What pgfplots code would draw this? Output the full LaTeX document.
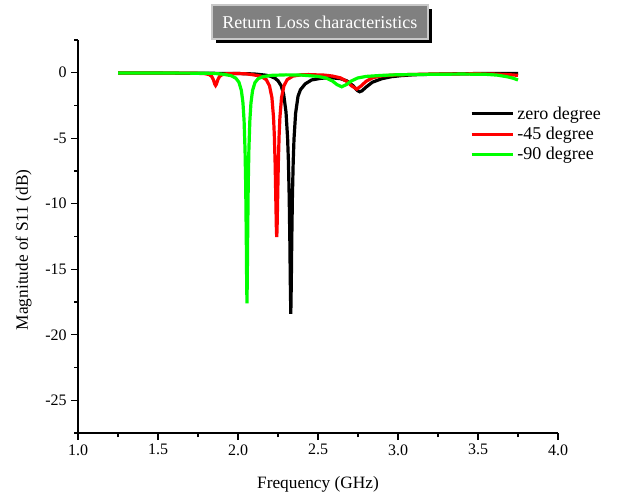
\documentclass[border=0pt]{standalone}
\usepackage{pgfplots}
\pgfplotsset{compat=1.18}
\usepackage{fontspec}
\setmainfont{Liberation Serif}

\definecolor{rlred}{RGB}{255,0,0}
\definecolor{rlgreen}{RGB}{0,255,0}
\definecolor{boxgray}{RGB}{128,128,128}
\definecolor{boxedge}{RGB}{200,200,200}

\begin{document}
\begin{tikzpicture}
\begin{axis}[
  scale only axis,
  width=360pt, height=294.75pt,
  xmin=1, xmax=4, ymin=-27.5, ymax=2.5,
  axis x line*=bottom, axis y line*=left,
  axis line style={line width=1.1pt},
  tick align=outside,
  xtick={1,1.5,2,2.5,3,3.5,4},
  xticklabels={1.0,1.5,2.0,2.5,3.0,3.5,4.0},
  minor xtick={1.25,1.75,2.25,2.75,3.25,3.75},
  ytick={-25,-20,-15,-10,-5,0},
  yticklabels={-25,-20,-15,-10,-5,0},
  minor ytick={-27.5,-22.5,-17.5,-12.5,-7.5,-2.5,2.5},
  major tick length=5pt, minor tick length=3pt,
  every tick/.style={line width=0.9pt, black},
  tick label style={font=\fontsize{12}{14}\selectfont},
  xlabel={Frequency (GHz)}, ylabel={Magnitude of S11 (dB)},
  label style={font=\fontsize{13}{15}\selectfont},
  xlabel style={at={(axis description cs:0.5,-0.13)}, anchor=center},
  ylabel style={at={(axis description cs:-0.113,0.466)}, anchor=center},
  legend style={draw=none, fill=none, at={(rel axis cs:0.808,0.845)}, anchor=north west,
    font=\fontsize{13.5}{16}\selectfont, row sep=0.5pt},
  legend cell align=left,
  legend image code/.code={\draw[#1] (0pt,0pt) -- (31pt,0pt);},
  clip=false,
]
% zero degree
\addplot[black, line width=2.4pt] coordinates {
(1.25,-0.02) (1.40,-0.02) (1.60,-0.03) (1.80,-0.04) (1.90,-0.05) (2.00,-0.06)
(2.10,-0.09) (2.17,-0.18) (2.20,-0.25) (2.23,-0.41) (2.25,-0.61) (2.27,-1.0)
(2.285,-1.62) (2.30,-3.0) (2.31,-5.0) (2.315,-6.75) (2.32,-9.5) (2.324,-12.8)
(2.327,-16.1) (2.33,-18.4) (2.333,-16.1) (2.336,-12.8) (2.34,-9.5) (2.345,-6.8)
(2.35,-5.05) (2.36,-3.1) (2.375,-1.8) (2.39,-1.3) (2.42,-0.85) (2.46,-0.55)
(2.52,-0.42) (2.58,-0.38) (2.64,-0.45) (2.68,-0.62) (2.72,-1.0) (2.745,-1.35)
(2.76,-1.45) (2.775,-1.38) (2.80,-1.1) (2.84,-0.72) (2.90,-0.45) (2.96,-0.3)
(3.02,-0.22) (3.10,-0.15) (3.30,-0.09) (3.50,-0.06) (3.75,-0.05)
};
% -45 degree
\addplot[rlred, line width=2.4pt] coordinates {
(1.25,-0.02) (1.50,-0.02) (1.70,-0.03) (1.79,-0.06) (1.82,-0.14) (1.835,-0.27)
(1.845,-0.5) (1.85,-0.68) (1.855,-0.87) (1.86,-0.97) (1.865,-0.87) (1.87,-0.68)
(1.875,-0.5) (1.885,-0.28) (1.90,-0.15) (1.93,-0.07) (2.00,-0.06) (2.05,-0.08)
(2.092,-0.15) (2.142,-0.26) (2.177,-0.53) (2.197,-1.0) (2.212,-1.9) (2.222,-3.4)
(2.227,-4.77) (2.232,-6.9) (2.237,-10.1) (2.240,-12.0) (2.242,-12.55) (2.244,-12.0)
(2.247,-10.1) (2.252,-6.9) (2.257,-4.77) (2.262,-3.4) (2.272,-1.9) (2.287,-1.0)
(2.307,-0.53) (2.342,-0.26) (2.392,-0.16) (2.44,-0.14) (2.54,-0.18) (2.59,-0.25)
(2.64,-0.39) (2.68,-0.66) (2.71,-1.0) (2.742,-1.25) (2.77,-1.0) (2.80,-0.66)
(2.84,-0.39) (2.89,-0.25) (2.99,-0.16) (3.20,-0.1) (3.50,-0.08) (3.60,-0.1)
(3.70,-0.15) (3.75,-0.2)
};
% -90 degree
\addplot[rlgreen, line width=2.4pt] coordinates {
(1.25,-0.02) (1.50,-0.02) (1.70,-0.03) (1.85,-0.05) (1.906,-0.11) (1.956,-0.22)
(1.986,-0.41) (2.006,-0.73) (2.021,-1.35) (2.031,-2.3) (2.038,-3.66) (2.044,-5.9)
(2.048,-8.5) (2.052,-12.9) (2.054,-15.8) (2.056,-17.6) (2.058,-15.8) (2.060,-12.9)
(2.064,-8.5) (2.068,-5.9) (2.074,-3.66) (2.081,-2.3) (2.091,-1.35) (2.106,-0.75)
(2.126,-0.45) (2.156,-0.3) (2.206,-0.2) (2.30,-0.16) (2.40,-0.18) (2.50,-0.28)
(2.55,-0.4) (2.59,-0.63) (2.618,-0.9) (2.648,-1.07) (2.678,-0.9) (2.708,-0.63)
(2.748,-0.4) (2.80,-0.28) (2.90,-0.2) (3.00,-0.15) (3.20,-0.12) (3.40,-0.1)
(3.55,-0.12) (3.62,-0.18) (3.68,-0.3) (3.72,-0.42) (3.75,-0.55)
};
\legend{zero degree, -45 degree, -90 degree}

% title box with shadow
\node[fill=black, minimum width=162pt, minimum height=25.5pt, inner sep=0pt]
  at ([xshift=3pt,yshift=-3pt]rel axis cs:0.504,1.046) {};
\node[fill=boxgray, draw=boxedge, line width=1pt, minimum width=162pt,
  minimum height=25.5pt, inner sep=0pt, text=white,
  font=\fontsize{13.5}{16}\selectfont] at (rel axis cs:0.504,1.046)
  {Return Loss characteristics};

\coordinate (bbbl) at (rel axis cs:-0.1625,-0.1603);
\coordinate (bbtr) at (rel axis cs:1.1354,1.1018);
\end{axis}
\pgfresetboundingbox
\useasboundingbox (bbbl) rectangle (bbtr);
\end{tikzpicture}
\end{document}
